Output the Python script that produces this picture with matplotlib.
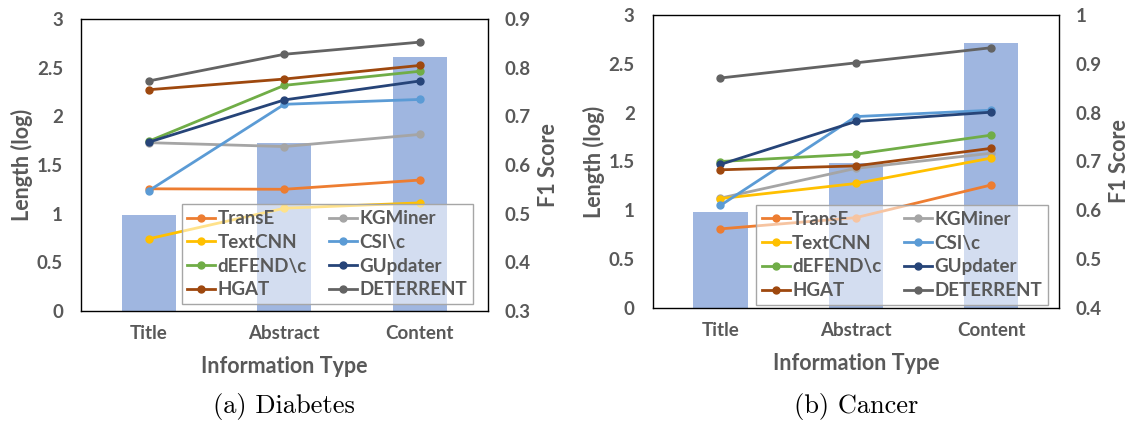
import matplotlib
matplotlib.use("Agg")
import matplotlib.pyplot as plt

plt.rcParams['font.family'] = ['Lato', 'DejaVu Sans']
plt.rcParams['font.weight'] = 'bold'
plt.rcParams['axes.labelweight'] = 'bold'

categories = ["Title", "Abstract", "Content"]
methods = ["TransE", "KGMiner", "TextCNN", r"CSI\c", r"dEFEND\c", "GUpdater", "HGAT", "DETERRENT"]
colors = ["#ED7D31", "#A5A5A5", "#FFC000", "#5B9BD5", "#70AD47", "#264478", "#9E480E", "#636363"]

# Diabetes
diab_length = [0.99, 1.73, 2.61]
diab_f1 = {
    "TransE":    [0.551, 0.550, 0.569],
    "KGMiner":   [0.646, 0.638, 0.663],
    "TextCNN":   [0.448, 0.511, 0.522],
    r"CSI\c":    [0.547, 0.725, 0.735],
    r"dEFEND\c": [0.649, 0.764, 0.793],
    "GUpdater":  [0.647, 0.734, 0.773],
    "HGAT":      [0.755, 0.777, 0.805],
    "DETERRENT": [0.773, 0.828, 0.853],
}

# Cancer
canc_length = [0.98, 1.48, 2.71]
canc_f1 = {
    "TransE":    [0.562, 0.585, 0.652],
    "KGMiner":   [0.625, 0.686, 0.717],
    "TextCNN":   [0.624, 0.655, 0.707],
    r"CSI\c":    [0.610, 0.792, 0.805],
    r"dEFEND\c": [0.700, 0.715, 0.754],
    "GUpdater":  [0.694, 0.782, 0.801],
    "HGAT":      [0.683, 0.691, 0.727],
    "DETERRENT": [0.871, 0.902, 0.933],
}

left_ticks = [0, 0.5, 1, 1.5, 2, 2.5, 3]
left_ticklabels = ["0", "0.5", "1", "1.5", "2", "2.5", "3"]
diab_rticks = [0.3, 0.4, 0.5, 0.6, 0.7, 0.8, 0.9]
diab_rticklabels = ["0.3", "0.4", "0.5", "0.6", "0.7", "0.8", "0.9"]
canc_rticks = [0.4, 0.5, 0.6, 0.7, 0.8, 0.9, 1.0]
canc_rticklabels = ["0.4", "0.5", "0.6", "0.7", "0.8", "0.9", "1"]

TXT = "#595959"
BAR = "#9FB6E0"
W, H = 1130, 421
fig = plt.figure(figsize=(W / 100, H / 100), dpi=100)

legend_order = ["TransE", "TextCNN", r"dEFEND\c", "HGAT", "KGMiner", r"CSI\c", "GUpdater", "DETERRENT"]


def panel(rect, lengths, f1, rticks, rlabels, rlim, caption, leg_anchor, colsp):
    x0, y0, x1, y1 = rect
    ax = fig.add_axes([x0 / W, 1 - y1 / H, (x1 - x0) / W, (y1 - y0) / H])
    xs = list(range(len(categories)))
    ax.bar(xs, lengths, width=0.4, color=BAR, zorder=1)
    ax.set_xlim(-0.5, 2.5)
    ax.set_ylim(0, 3)
    ax.set_yticks(left_ticks)
    ax.set_yticklabels(left_ticklabels)
    ax.set_xticks(xs)
    ax.set_xticklabels(categories)
    ax.tick_params(axis='both', length=0, colors=TXT, labelsize=13.5)
    ax.tick_params(axis='y', pad=13)
    ax.tick_params(axis='x', pad=10)
    for s in ax.spines.values():
        s.set_color('black')
        s.set_linewidth(1.0)
    ax.set_ylabel("Length (log)", color=TXT, fontsize=15.5, fontweight='bold')
    ax.yaxis.set_label_coords(-0.145, 0.5)
    ax.yaxis.label.set_va('center')
    ax.set_xlabel("Information Type", color=TXT, fontsize=15.5, fontweight='bold')
    ax.xaxis.set_label_coords(0.5, -0.19)
    ax.xaxis.label.set_va('center')

    ax2 = ax.twinx()
    handles = {}
    for m, c in zip(methods, colors):
        ln, = ax2.plot(xs, f1[m], color=c, lw=2.0, marker='o', ms=5, zorder=3)
        handles[m] = ln
    ax2.set_ylim(*rlim)
    ax2.set_yticks(rticks)
    ax2.set_yticklabels(rlabels)
    ax2.tick_params(axis='y', length=0, colors=TXT, labelsize=13.5, pad=12)
    for s in ax2.spines.values():
        s.set_visible(False)
    ax2.set_ylabel("F1 Score", color=TXT, fontsize=15.5, fontweight='bold')
    ax2.yaxis.set_label_coords(1.15, 0.5)
    ax2.yaxis.label.set_va('center')

    leg = ax2.legend([handles[m] for m in legend_order], legend_order, ncol=2,
                     loc='lower right', bbox_to_anchor=leg_anchor,
                     borderaxespad=0, prop={'size': 13.5, 'weight': 'bold'},
                     handlelength=1.5, handletextpad=0.12, labelspacing=0.36,
                     borderpad=0.3, columnspacing=colsp, fancybox=False)
    fr = leg.get_frame()
    fr.set_alpha(None)
    fr.set_facecolor((1, 1, 1, 0.55))
    fr.set_edgecolor('#A6A6A6')
    fr.set_linewidth(1.0)
    for t in leg.get_texts():
        t.set_color(TXT)
    leg.set_zorder(10)

    fig.text(((x0 + x1) / 2) / W, 1 - 407 / H, caption, ha='center', va='center',
             fontsize=19, family='cmr10', weight='normal', color='black')


panel((81, 19.3, 487.7, 310.7), diab_length, diab_f1, diab_rticks, diab_rticklabels,
      (0.3, 0.9), "(a) Diabetes", (0.964, 0.023), 1.2)
panel((652.7, 15, 1059, 308), canc_length, canc_f1, canc_rticks, canc_rticklabels,
      (0.4, 1.0), "(b) Cancer", (0.972, 0.011), 1.2)

fig.savefig("out.png", dpi=100)
